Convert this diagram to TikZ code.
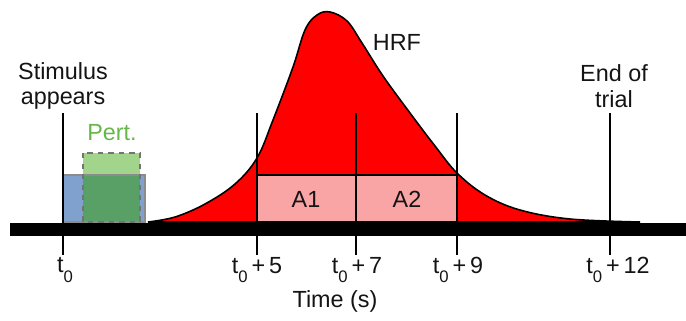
\documentclass[tikz,border=0pt]{standalone}
\usepackage{fontspec}
\setmainfont{Liberation Sans}
\newcommand{\tz}{t\raisebox{-0.75ex}{\fontsize{9.5}{10}\selectfont 0}}
\begin{document}
\begin{tikzpicture}[x=0.02cm,y=-0.02cm,
  bar/.style={draw=black,line width=7.4pt},
  tickline/.style={draw=black,line width=1.1pt},
  hrf/.style={draw=black,fill=red,line width=0.9pt},
  area/.style={draw=black,line width=0.9pt},
  label/.style={font=\fontsize{13.3}{14.5}\selectfont,text=black!92,inner sep=0pt},
]
\definecolor{stimblue}{RGB}{128,160,206}
\definecolor{pertlight}{RGB}{162,212,140}
\definecolor{pertdark}{RGB}{88,160,102}
\definecolor{pertgreen}{RGB}{104,182,72}
\definecolor{areapink}{RGB}{250,165,165}
\useasboundingbox (0,0) rectangle (686,321);

% HRF curve
\filldraw[hrf] plot[smooth,tension=0.6] coordinates {(148,222) (175,217) (205,204) (235,184) (257,158)
  (273,120) (293,67) (305,30) (317,15) (330,12) (347,21) (362,43) (383,76) (410,113)
  (435,146) (457,173) (485,195) (520,210) (570,219) (640,222)} -- cycle;
\node[label] (hrflab) at (397,42) {HRF};

% A1 / A2 windows
\draw[area,fill=areapink] (257,175) rectangle (356,222);
\draw[area,fill=areapink] (356,175) rectangle (457,222);
\node[label] (a1) at (306,199) {A1};
\node[label] (a2) at (407,199) {A2};

% Stimulus and perturbation
\fill[stimblue] (63,175) rectangle (145,222);
\fill[pertlight] (83,153) rectangle (140,175);
\fill[pertdark] (83,175) rectangle (140,222);
\draw[black!45,line width=0.6pt] (63,175) rectangle (145,222);
\draw[black!55,line width=1.1pt,dashed] (83,153) rectangle (140,222);
\node[label,text=pertgreen] (pert) at (112,133) {Pert.};

% time axis
\draw[bar] (10,229) -- (686,229);
\foreach \x/\lx/\txt in {63/65/{\tz},257/257/{\tz\,+\,5},356/357/{\tz\,+\,7},457/458/{\tz\,+\,9},610/618/{\tz\,+\,12}}{
  \draw[tickline] (\x,113) -- (\x,255);
  \node[label] (t\x) at (\lx,270) {\txt};
}
\node[label] (time) at (335,301) {Time (s)};

\node[label,align=center] (stim) at (63,86) {Stimulus\\appears};
\node[label,align=center] (end) at (614,86) {End of\\trial};

\end{tikzpicture}
\end{document}
